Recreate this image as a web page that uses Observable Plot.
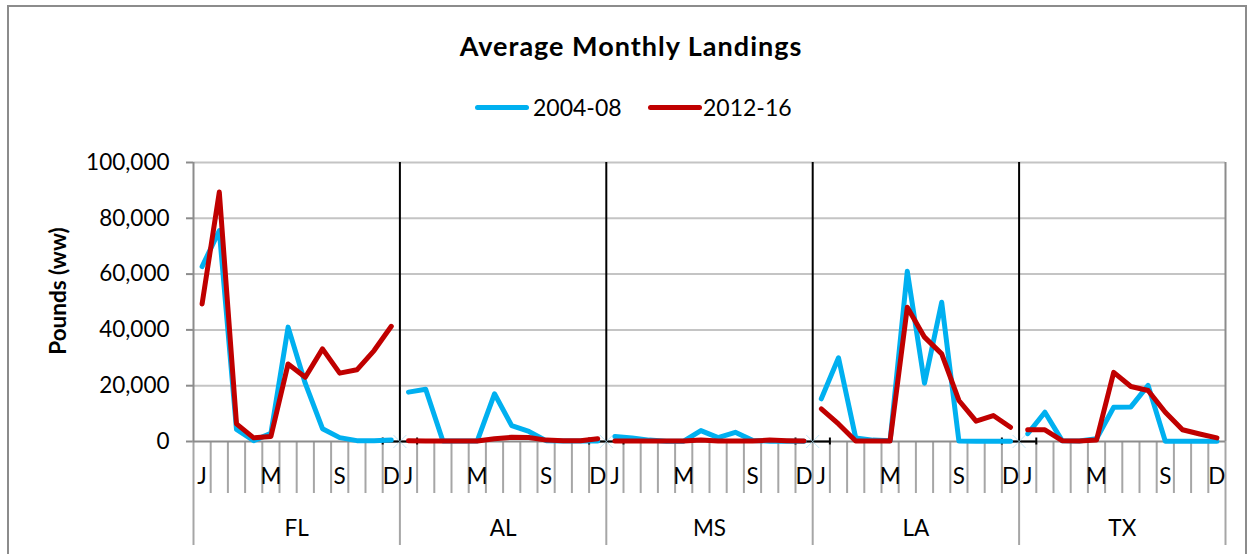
<!DOCTYPE html>
<html>
<head>
<meta charset="utf-8">
<script src="https://cdn.jsdelivr.net/npm/d3@7"></script>
<script src="https://cdn.jsdelivr.net/npm/@observablehq/plot@0.6"></script>
<style>
  body { margin: 0; background: #fff; font-family: Lato, "Open Sans", sans-serif; }
  #wrap { position: relative; width: 1250px; height: 554px; overflow: hidden; background: #fff; }
  #frame { position: absolute; left: 7px; top: 5px; width: 1240px; height: 640px; border: 2px solid #8c8c8c; box-sizing: border-box; }
  #title { position: absolute; left: 0; width: 1262px; top: 32px; text-align: center; font-weight: bold; font-size: 27px; letter-spacing: 1px; line-height: 1; color: #000; }
  .sw { position: absolute; height: 5px; border-radius: 2.5px; }
  .lt { position: absolute; font-size: 23px; line-height: 1; color: #000; white-space: nowrap; }
  #chart { position: absolute; left: 0; top: 130px; }
</style>
</head>
<body>
<div id="wrap">
  <div id="frame"></div>
  <div id="title">Average Monthly Landings</div>
  <div id="legend"></div>
  <div id="chart"></div>
</div>
<script>
// ---- data (pounds, whole weight) ----
const states = ["FL", "AL", "MS", "LA", "TX"];
const monthLabels = ["J", "", "", "", "M", "", "", "", "S", "", "", "D"];
const seriesNames = ["2004-08", "2012-16"];
const seriesColors = ["#00B0F0", "#C00000"];
const yTicks = [0, 20000, 40000, 60000, 80000, 100000];

// 2004-08 average by month, Jan..Dec
const p0408_FL = [62700, 75600, 4300, 300, 2900, 41000, 20800, 4600, 1400, 300, 300, 500];
const p0408_AL = [17700, 18700, 200, 200, 200, 17100, 5700, 3600, 300, 200, 200, 200];
const p0408_MS = [1800, 1300, 500, 100, 100, 3900, 1400, 3300, 400, 100, 100, 100];
const p0408_LA = [15300, 30000, 1300, 500, 300, 61000, 20900, 49900, 200, 100, 100, 100];
const p0408_TX = [2800, 10500, 300, 200, 1000, 12300, 12400, 20100, 100, 100, 100, 100];

// 2012-16 average by month, Jan..Dec
const p1216_FL = [49300, 89400, 6300, 1300, 1800, 27800, 23000, 33200, 24500, 25700, 32600, 41300];
const p1216_AL = [300, 200, 200, 200, 200, 1000, 1500, 1400, 500, 300, 300, 1000];
const p1216_MS = [200, 200, 200, 200, 200, 500, 200, 200, 200, 500, 300, 200];
const p1216_LA = [11700, 6300, 200, 200, 200, 48100, 37400, 31400, 14700, 7300, 9300, 5100];
const p1216_TX = [4200, 4200, 300, 200, 500, 24800, 19700, 18300, 10500, 4200, 2700, 1300];

const bySeries = [
  [p0408_FL, p0408_AL, p0408_MS, p0408_LA, p0408_TX],
  [p1216_FL, p1216_AL, p1216_MS, p1216_LA, p1216_TX]
];

// ---- build table ----
const rows = [];
seriesNames.forEach((s, k) => {
  states.forEach((st, si) => {
    bySeries[k][si].forEach((v, mi) => {
      rows.push({i: si * 12 + mi, state: st, series: s, value: v});
    });
  });
});

const nCat = states.length * 12;
const allIdx = d3.range(nCat);
const groupEdges = d3.range(states.length + 1).map(g => g * 12 - 0.5);
const innerEdges = groupEdges.slice(1, -1);
const monthEdges = d3.range(nCat - 1).map(i => i + 0.5).filter(e => !groupEdges.includes(e));
const labelIdx = allIdx.filter(i => monthLabels[i % 12] !== "");
const stateCenters = states.map((s, g) => g * 12 + 5.5);
const caps = innerEdges.flatMap(e => [e - 1, e + 1]);

// ---- legend (HTML) ----
const legend = document.getElementById("legend");
const legendPos = [{sw: 475, tx: 533}, {sw: 648, tx: 703}];
seriesNames.forEach((s, k) => {
  const sw = document.createElement("div");
  sw.className = "sw";
  sw.style.left = legendPos[k].sw + "px";
  sw.style.top = "105px";
  sw.style.width = "54px";
  sw.style.background = seriesColors[k];
  legend.appendChild(sw);
  const t = document.createElement("div");
  t.className = "lt";
  t.style.left = legendPos[k].tx + "px";
  t.style.top = "96px";
  t.textContent = s;
  legend.appendChild(t);
});

// ---- chart ----
const axisGray = "#8c8c8c";
const tickGray = "#a6a6a6";
const chart = Plot.plot({
  width: 1250,
  height: 424,
  marginLeft: 193,
  marginRight: 25,
  marginTop: 32,
  marginBottom: 113,
  style: {fontFamily: "Lato, 'Open Sans', sans-serif", background: "transparent", overflow: "visible"},
  x: {type: "linear", domain: [-0.5, nCat - 0.5]},
  y: {domain: [0, 100000]},
  color: {domain: seriesNames, range: seriesColors},
  marks: [
    // horizontal gridlines
    Plot.ruleY(yTicks.filter(v => v > 0), {stroke: "#c4c4c4", strokeWidth: 2}),
    // left axis line and right edge
    Plot.ruleX([-0.5, nCat - 0.5], {y1: 0, y2: 100000, stroke: axisGray, strokeWidth: 2}),
    // y axis
    Plot.axisY({
      ticks: yTicks, tickFormat: d3.format(","), tickSize: 7, tickPadding: 17,
      stroke: axisGray, strokeWidth: 2, fill: "#000", fontSize: 22.5, label: null
    }),
    Plot.text(["Pounds (ww)"], {
      frameAnchor: "left", textAnchor: "middle", lineAnchor: "middle",
      dx: -135, dy: -11, rotate: -90,
      fontWeight: "bold", fontSize: 22.5, fill: "#000"
    }),
    // month ticks
    Plot.axisX({
      ticks: monthEdges, tickSize: 52, tickFormat: () => "",
      stroke: tickGray, strokeWidth: 2, label: null
    }),
    // group ticks
    Plot.axisX({
      ticks: groupEdges, tickSize: 104, tickFormat: () => "",
      stroke: tickGray, strokeWidth: 2, label: null
    }),
    // month labels
    Plot.axisX({
      ticks: labelIdx, tickSize: 0, tickPadding: 26.5,
      tickFormat: i => monthLabels[i % 12], fill: "#000", fontSize: 22.5, label: null
    }),
    // state labels
    Plot.axisX({
      ticks: stateCenters, tickSize: 0, tickPadding: 79,
      tickFormat: c => states[Math.round((c - 5.5) / 12)], fill: "#000", fontSize: 22.5, label: null
    }),
    // baseline
    Plot.ruleY([0], {stroke: axisGray, strokeWidth: 2}),
    // state separators
    Plot.ruleX(innerEdges, {y1: 0, y2: 100000, stroke: "#000", strokeWidth: 2}),
    Plot.ruleY(innerEdges, {y: () => 0, x1: e => e - 1, x2: e => e + 1, stroke: "#000", strokeWidth: 2}),
    Plot.ruleX(caps, {x: d => d, y1: -1250, y2: 1250, stroke: "#000", strokeWidth: 2}),
    Plot.dot(innerEdges, {x: d => d, y: () => 0, symbol: "times", r: 6, stroke: "#a8dcf2", strokeWidth: 1, strokeOpacity: 0.7}),
    // series lines (one segment per state)
    Plot.lineY(rows, {
      x: "i", y: "value", z: d => d.series + "|" + d.state, stroke: "series",
      strokeWidth: 5, strokeLinejoin: "round", strokeLinecap: "round"
    })
  ]
});
document.getElementById("chart").appendChild(chart);
</script>
</body>
</html>
